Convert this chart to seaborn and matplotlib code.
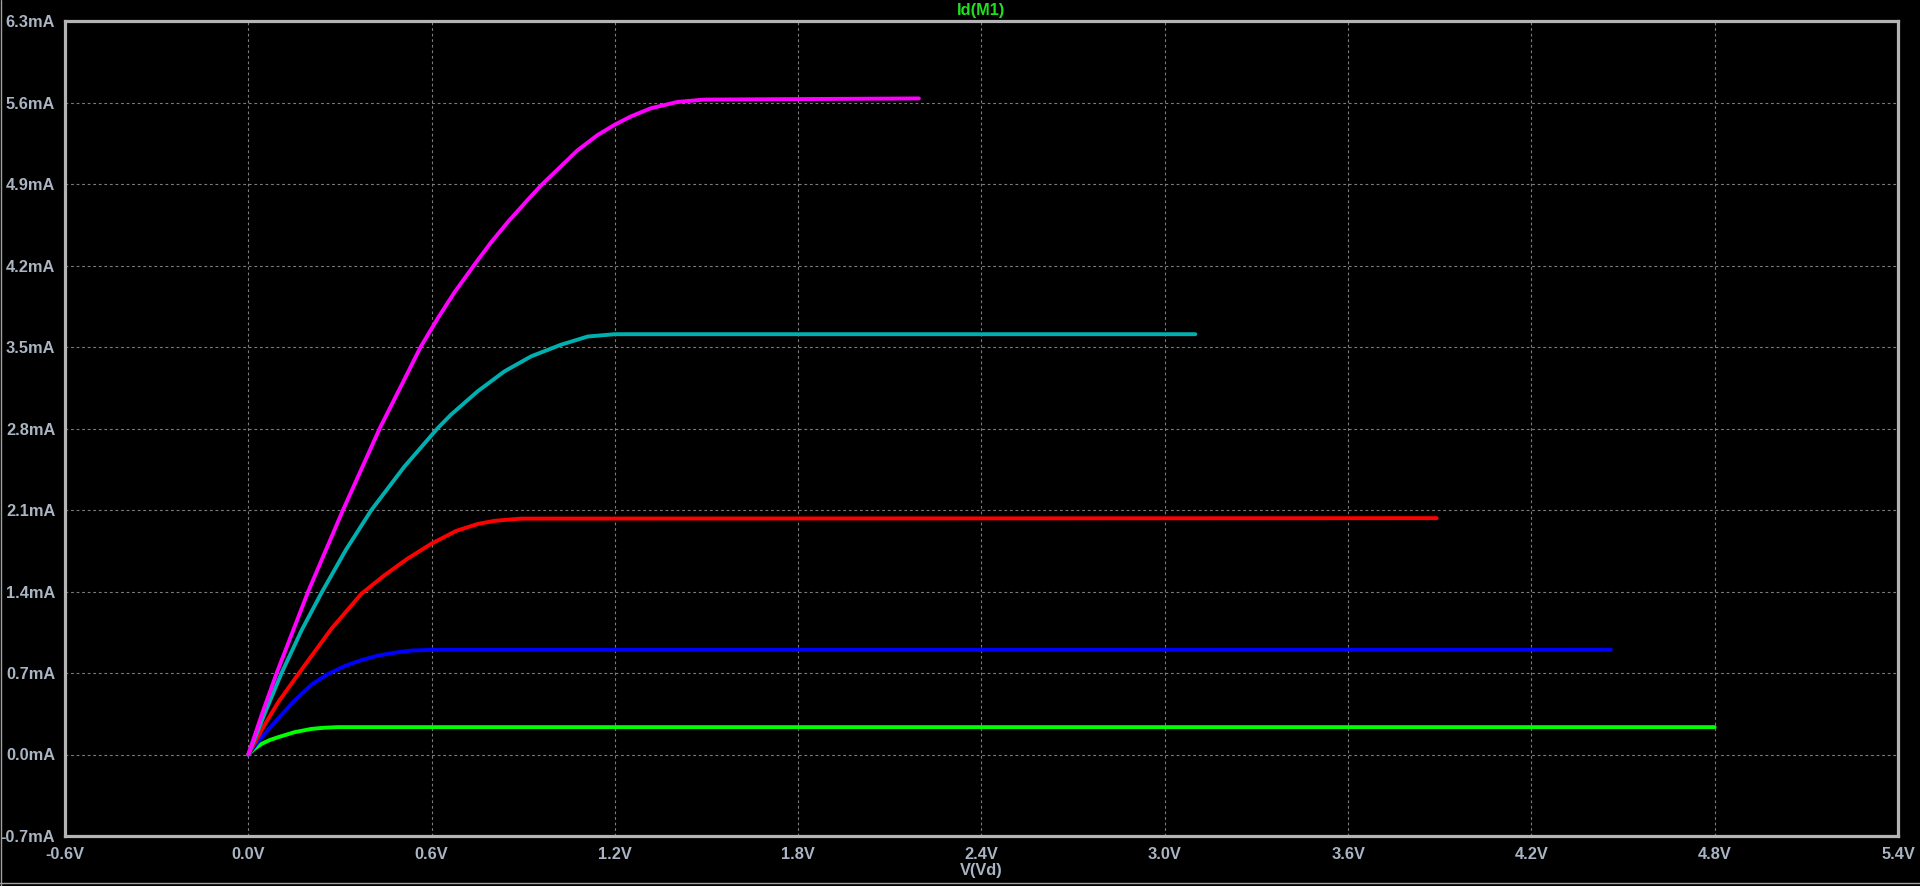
# LTspice style plot of Id(M1) against V(Vd), one trace per gate step

import pandas as pd
import matplotlib.pyplot as plt
import seaborn as sns
from matplotlib.lines import Line2D

# ---- data (V, mA) ----
green_vd = [0.0, 0.02, 0.044, 0.07, 0.098, 0.152, 0.207, 0.25, 0.294, 4.80]
green_id = [0.0, 0.048, 0.092, 0.124, 0.149, 0.192, 0.220, 0.230, 0.235, 0.235]

blue_vd = [0.0, 0.044, 0.098, 0.15, 0.207, 0.26, 0.316, 0.37, 0.425, 0.48, 0.534, 0.60, 4.46]
blue_id = [0.0, 0.15, 0.31, 0.46, 0.60, 0.69, 0.76, 0.81, 0.85, 0.875, 0.893, 0.899, 0.90]

red_vd = [0.0, 0.05, 0.098, 0.169, 0.272, 0.37, 0.446, 0.52, 0.599, 0.68, 0.751, 0.806,
          0.893, 3.89]
red_id = [0.0, 0.24, 0.45, 0.71, 1.08, 1.38, 1.54, 1.68, 1.81, 1.92, 1.98, 2.007,
          2.026, 2.03]

cyan_vd = [0.0, 0.055, 0.109, 0.175, 0.242, 0.32, 0.403, 0.51, 0.619, 0.664, 0.751, 0.838,
           0.926, 1.024, 1.111, 1.20, 3.10]
cyan_id = [0.0, 0.36, 0.70, 1.07, 1.40, 1.76, 2.10, 2.47, 2.80, 2.92, 3.12, 3.29,
           3.42, 3.52, 3.59, 3.61, 3.61]

magenta_vd = [0.0, 0.045, 0.093, 0.196, 0.31, 0.43, 0.501, 0.564, 0.621, 0.675, 0.741,
              0.795, 0.85, 0.915, 0.959, 1.078, 1.143, 1.20, 1.252, 1.317, 1.405, 1.492,
              2.195]
magenta_id = [0.0, 0.35, 0.70, 1.40, 2.10, 2.80, 3.17, 3.50, 3.75, 3.97, 4.21,
              4.40, 4.575, 4.765, 4.89, 5.19, 5.32, 5.41, 5.48, 5.55, 5.605, 5.625,
              5.635]

curve_names = ["green", "blue", "red", "cyan", "magenta"]
curve_colors = ["#00ff00", "#0000ff", "#ff0000", "#00b0b0", "#ff00ff"]

x_ticks = [-0.6, 0.0, 0.6, 1.2, 1.8, 2.4, 3.0, 3.6, 4.2, 4.8, 5.4]
y_ticks = [-0.7, 0.0, 0.7, 1.4, 2.1, 2.8, 3.5, 4.2, 4.9, 5.6, 6.3]

frames = []
for name, vd, idv in zip(curve_names,
                         [green_vd, blue_vd, red_vd, cyan_vd, magenta_vd],
                         [green_id, blue_id, red_id, cyan_id, magenta_id]):
    frames.append(pd.DataFrame({"vd": vd, "id": idv, "curve": name}))
df = pd.concat(frames, ignore_index=True)

# ---- style ----
sns.set_style("dark", {"axes.facecolor": "black", "figure.facecolor": "black"})
plt.rcParams["font.family"] = ["Liberation Sans", "DejaVu Sans"]
plt.rcParams["font.weight"] = "bold"

frame_col = "#b4b4b4"
text_col = "#aab4c2"
fsize = 11.8

fig = plt.figure(figsize=(19.2, 8.86), dpi=100)
ax = fig.add_axes([65 / 1920, 50 / 886, (1898 - 65) / 1920, (836 - 21) / 886])
ax.set_facecolor("black")

sns.lineplot(data=df, x="vd", y="id", hue="curve", hue_order=curve_names,
             palette=dict(zip(curve_names, curve_colors)), estimator=None,
             sort=False, lw=2.8, legend=False, ax=ax)

ax.set_xlim(-0.6, 5.4)
ax.set_ylim(-0.7, 6.3)
ax.set_xticks(x_ticks)
ax.set_yticks(y_ticks)
ax.set_xticklabels([f"{v:.1f}V" for v in x_ticks])
ax.set_yticklabels([f"{v:.1f}mA" for v in y_ticks])

ax.grid(True, color="#7c7c7c", lw=0.8, linestyle=(0, (2.5, 2.5)))
for s in ax.spines.values():
    s.set_visible(True)
    s.set_color(frame_col)
    s.set_linewidth(2.3)

ax.tick_params(axis="y", colors=frame_col, labelcolor=text_col, length=7,
               width=2.3, pad=0, labelsize=fsize)
ax.tick_params(axis="x", colors=frame_col, labelcolor=text_col, length=6,
               width=2.3, pad=2, labelsize=fsize)
for lbl in ax.get_xticklabels() + ax.get_yticklabels():
    lbl.set_fontweight("bold")

ax.set_xlabel("")
ax.set_ylabel("")
fig.text(981 / 1920, 1 - 10 / 886, "Id(M1)", color="#20e020", fontsize=fsize,
         fontweight="bold", ha="center", va="center")
fig.text(981 / 1920, 1 - 871 / 886, "V(Vd)", color=text_col, fontsize=fsize,
         fontweight="bold", ha="center", va="center")

# window border bits on left and bottom
fig.add_artist(Line2D([0.0005, 0.0005], [0, 1], color="#a0a0a0", lw=1,
                      transform=fig.transFigure))
fig.add_artist(Line2D([0, 1], [3 / 886, 3 / 886], color="#a0a0a0", lw=1,
                      transform=fig.transFigure))

fig.savefig("out.png", dpi=100, facecolor="black")
